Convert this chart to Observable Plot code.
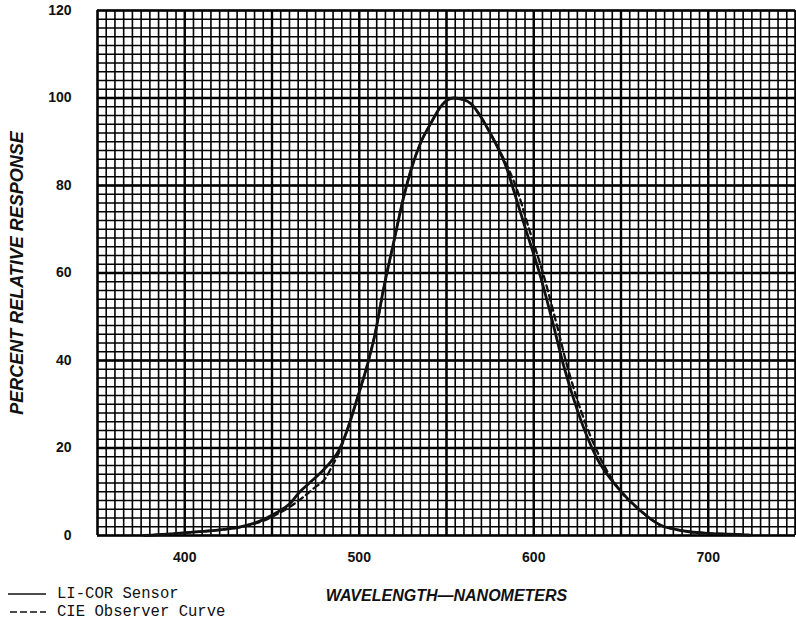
<!DOCTYPE html>
<html>
<head>
<meta charset="utf-8">
<script src="https://cdn.jsdelivr.net/npm/d3@7"></script>
<script src="https://cdn.jsdelivr.net/npm/@observablehq/plot@0.6"></script>
<style>
  body { margin: 0; background: #fff; }
  #wrap { position: relative; width: 796px; height: 620px; overflow: hidden; }
  .leg { position: absolute; left: 57px; font-family: "Liberation Mono", "Courier New", monospace; font-size: 15.6px; line-height: 18px; color: #111; white-space: pre; }
  #legsvg { position: absolute; left: 0; top: 580px; }
</style>
</head>
<body>
<div id="wrap">
  <div id="chart"></div>
  <svg id="legsvg" width="60" height="40">
    <line x1="8" x2="46" y1="14" y2="14" stroke="#111" stroke-width="1.6"></line>
    <line x1="10" x2="46" y1="32" y2="32" stroke="#111" stroke-width="1.6" stroke-dasharray="7,3"></line>
  </svg>
  <div class="leg" style="top:585px">LI-COR Sensor</div>
  <div class="leg" style="top:603px">CIE Observer Curve</div>
</div>
<script>
// ---- Data ----
const licorNm  = [377,390,403,420,430,439,446,453,460,466,472,478,484,488,493,499,505,509,514,520,525,530,535,541,547,554,560,564,570,575,581,585,588,595,604,611,617,625,636,648,661,673,680,690,700,712,724];
const licorPct = [0,0.3,0.7,1.3,1.8,2.7,3.8,5.3,7.2,10.0,12.2,14.4,17.0,19.2,24,31.5,39.5,46,56.5,67.5,76.6,84,89.6,94.2,98.2,100,99.6,98.7,95.5,92,87.3,83.4,79.5,70.5,59,48.5,39,28.6,17.8,11,5.7,2.3,1.5,0.8,0.5,0.3,0.1];

const cieNm  = [377,390,403,420,430,439,446,453,460,468,474,481,485,489,493,499,505,509,514,520,525,530,535,541,547,554,560,564,570,575,581,586,590,597,606,613,619,627,638,648,661,673,680,690,700,712,724];
const ciePct = [0,0.3,0.7,1.3,1.8,2.6,3.5,4.9,6.5,8.8,10.8,13.3,16.3,19.5,24,31.5,39.5,46,56.5,67.5,76.6,84,89.6,94.2,98.2,100,99.6,98.7,95.5,92,87.5,83.4,79.5,70.5,59,48.5,39,28.6,17.8,11,5.7,2.3,1.5,0.8,0.5,0.3,0.1];

const xTicks = [400, 500, 600, 700];
const yTicks = [0, 20, 40, 60, 80, 100, 120];
const xDomain = [350, 750];
const yDomain = [0, 120];
const xLabel = "WAVELENGTH\u2014NANOMETERS";
const yLabel = "PERCENT RELATIVE RESPONSE";

// grid lines of the graph paper (5 nm / 2 % minor, 50 nm / 20 % major)
const gridMinorX = d3.range(350, 751, 5);
const gridMajorX = d3.range(350, 751, 50);
const gridMinorY = d3.range(0, 121, 2);
const gridMajorY = d3.range(0, 121, 20);

const licor = licorNm.map((nm, i) => ({nm, pct: licorPct[i]}));
const cie = cieNm.map((nm, i) => ({nm, pct: ciePct[i]}));

const plot = Plot.plot({
  width: 796,
  height: 620,
  marginTop: 10,
  marginBottom: 85,
  marginLeft: 97,
  marginRight: 1,
  x: {domain: xDomain, ticks: xTicks, tickSize: 0, tickPadding: 17, label: null},
  y: {domain: yDomain, ticks: yTicks, tickSize: 0, tickPadding: 26, label: null},
  style: {fontFamily: "'Liberation Sans', Arial, sans-serif", fontSize: "14px", fontWeight: "bold", color: "#111", background: "#fff"},
  marks: [
    Plot.ruleX(gridMinorX, {stroke: "#000", strokeWidth: 1.6}),
    Plot.ruleY(gridMinorY, {stroke: "#000", strokeWidth: 1.6}),
    Plot.ruleX(gridMajorX, {stroke: "#000", strokeWidth: 2.4}),
    Plot.ruleY(gridMajorY, {stroke: "#000", strokeWidth: 2.4}),
    Plot.line(cie, {x: "nm", y: "pct", curve: "monotone-x", stroke: "#111", strokeWidth: 2.3, strokeDasharray: "6,4"}),
    Plot.line(licor, {x: "nm", y: "pct", curve: "monotone-x", stroke: "#111", strokeWidth: 2.8}),
    Plot.text([xLabel], {frameAnchor: "bottom", dy: 65, fontSize: 16, fontWeight: "bold", fontStyle: "italic", fill: "#111"}),
    Plot.text([yLabel], {frameAnchor: "left", textAnchor: "middle", dx: -80, rotate: -90, fontSize: 18, fontWeight: "bold", fontStyle: "italic", fill: "#111"})
  ]
});
document.getElementById("chart").appendChild(plot);
</script>
</body>
</html>
